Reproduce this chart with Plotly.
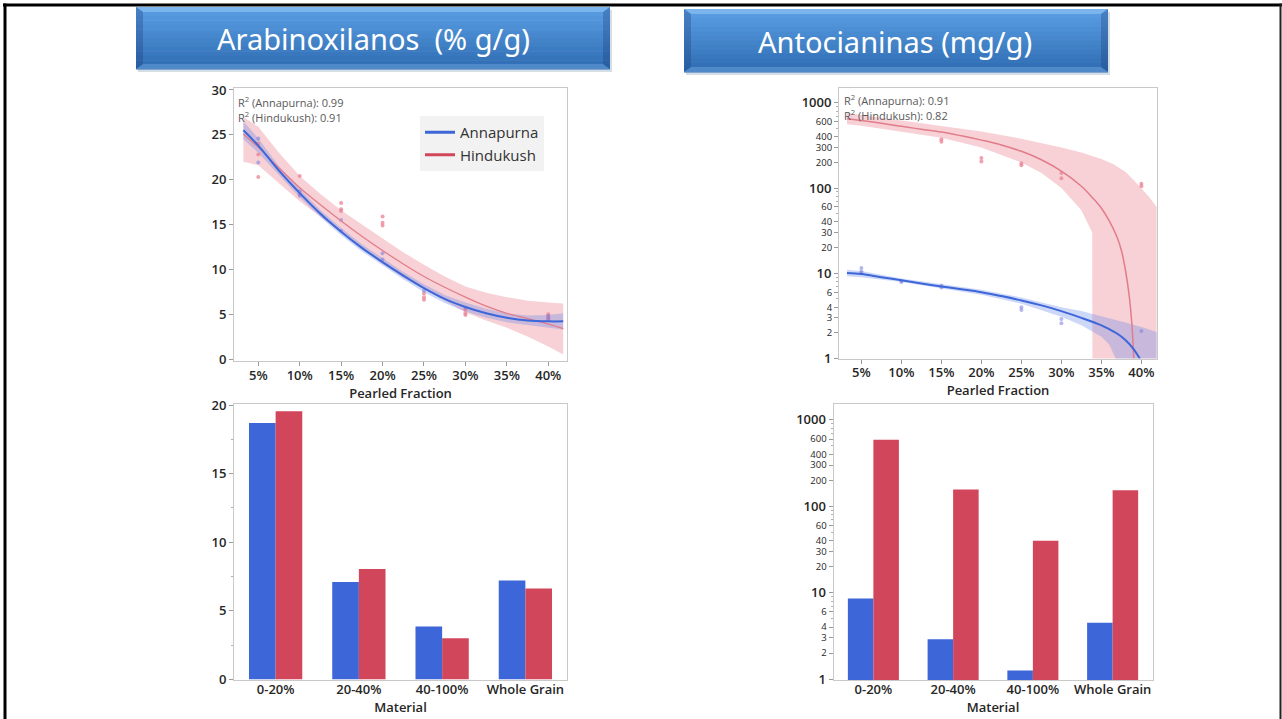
import plotly.graph_objects as go

W, H = 1282, 719

# ---------------- data ----------------
# Arabinoxylans fitted curves (x in % pearled fraction)
ax_fit_x = [3.2, 5, 7.5, 10, 12.5, 15, 17.5, 20, 22.5, 25, 27.5, 30, 32.5, 35, 37.5, 40, 41.8]
ax_an_fit = [25.5, 23.8, 21.0, 18.5, 16.2, 14.2, 12.4, 10.8, 9.3, 7.9, 6.7, 5.8, 5.1, 4.6, 4.3, 4.2, 4.2]
ax_an_up = [26.5, 24.6, 21.5, 18.95, 16.6, 14.6, 12.8, 11.2, 9.7, 8.35, 7.15, 6.3, 5.6, 5.1, 4.85, 4.9, 5.1]
ax_an_lo = [24.5, 23.0, 20.5, 18.05, 15.8, 13.8, 12.0, 10.4, 8.9, 7.45, 6.25, 5.3, 4.6, 4.1, 3.75, 3.5, 3.3]
ax_hk_fit = [25.1, 23.6, 21.3, 19.1, 17.2, 15.4, 13.7, 12.1, 10.6, 9.2, 8.0, 6.9, 5.9, 5.1, 4.5, 3.9, 3.4]
ax_hk_up = [27.0, 25.9, 23.0, 20.4, 18.4, 16.6, 15.0, 13.4, 11.9, 10.5, 9.2, 8.1, 7.4, 6.9, 6.5, 6.3, 6.2]
ax_hk_lo = [22.0, 21.6, 19.6, 17.6, 15.9, 14.1, 12.3, 10.6, 9.1, 7.8, 6.5, 5.2, 4.3, 3.5, 2.5, 1.4, 0.5]

ax_an_pts_x = [5, 5, 10, 10, 15, 15, 20, 20, 25, 30, 40, 40]
ax_an_pts_y = [24.6, 21.9, 18.7, 18.2, 15.5, 14.3, 11.8, 11.1, 7.6, 5.7, 4.8, 4.5]
ax_hk_pts_x = [5, 5, 5, 10, 10, 15, 15, 15, 20, 20, 20, 25, 25, 25, 30, 30, 30, 40, 40, 40]
ax_hk_pts_y = [22.8, 20.3, 24.0, 20.4, 18.4, 17.4, 16.7, 16.5, 15.9, 15.2, 14.9,
               7.3, 6.9, 6.6, 5.5, 5.1, 4.9, 5.0, 4.7, 4.4]

# Anthocyanins fitted curves (log scale)
an_fit_x = [3.2, 5, 7.5, 10, 12.5, 15, 17.5, 20, 22.5, 25, 27.5, 30, 32.5, 35, 36, 37, 38, 39, 39.8]
an_fit_y = [10.1, 9.8, 9.0, 8.3, 7.6, 7.0, 6.5, 6.0, 5.4, 4.8, 4.2, 3.6, 3.0, 2.45, 2.2, 1.95, 1.65, 1.3, 1.0]
an_band_x = [3.2, 5, 10, 15, 20, 25, 30, 32.5, 35, 36, 37, 38, 40, 41.9]
an_band_up = [11.0, 10.6, 8.7, 7.4, 6.4, 5.2, 4.0, 3.6, 3.1, 2.95, 2.8, 2.65, 2.35, 2.05]
an_band_lo = [9.2, 9.0, 7.9, 6.6, 5.6, 4.4, 3.1, 2.45, 1.8, 1.45, 0.9, 0.6, 0.3, 0.2]

hk_fit_x = [3.2, 5, 7.5, 10, 12.5, 15, 17.5, 20, 22.5, 25, 27.5, 30, 32.5, 34, 35, 36, 37, 37.5, 38, 38.5, 38.8, 39.05]
hk_fit_y = [650, 620, 575, 530, 490, 455, 410, 365, 320, 270, 215, 158, 105, 75, 58, 41, 26, 18.5, 11, 5.2, 2.6, 1.0]
hk_band_x = [3.2, 5, 10, 15, 20, 25, 27.5, 30, 32.5, 33.85, 33.9, 35, 36.5, 38, 39, 40, 41, 41.9]
hk_band_up = [760, 720, 620, 540, 460, 380, 340, 300, 262, 240, 239, 220, 190, 155, 125, 98, 78, 60]
hk_band_lo = [560, 540, 460, 390, 300, 200, 150, 100, 55, 30, 0.1, 0.1, 0.1, 0.1, 0.1, 0.1, 0.1, 0.1]

an_pts_x = [5, 5, 5, 10, 10, 15, 15, 25, 25, 30, 30, 40]
an_pts_y = [11.5, 10.5, 10.0, 8.1, 7.9, 7.2, 6.8, 4.0, 3.7, 2.9, 2.6, 2.1]
hk_pts_x = [15, 15, 20, 20, 25, 25, 30, 30, 40, 40]
hk_pts_y = [375, 350, 225, 205, 195, 185, 150, 130, 112, 105]

# Bars
materials = ["0-20%", "20-40%", "40-100%", "Whole Grain"]
ax_an_bar = [18.7, 7.1, 3.85, 7.2]
ax_hk_bar = [19.55, 8.05, 3.0, 6.62]
ant_an_bar = [8.6, 2.9, 1.26, 4.5]
ant_hk_bar = [590, 157, 40, 153]

pct_ticks = [5, 10, 15, 20, 25, 30, 35, 40]
pct_labels = ["5%", "10%", "15%", "20%", "25%", "30%", "35%", "40%"]
log_major = [1, 10, 100, 1000]
log_small = [2, 3, 4, 6, 20, 30, 40, 60, 200, 300, 400, 600]
log_minor = [5, 7, 8, 9, 50, 70, 80, 90, 500, 700, 800, 900]

# ---------------- styles ----------------
BLUE = "#3d66d8"
RED = "#d1465a"
RED_LINE = "#e27c8a"
BLUE_BAND = "rgba(90,125,235,0.30)"
RED_BAND = "rgba(232,115,130,0.33)"
BLUE_PT = "rgba(120,125,220,0.55)"
RED_PT = "rgba(235,130,145,0.75)"
FONT = "Open Sans"
TICKC = "#262626"


def X(px):
    return px / W


def Y(py):
    return 1 - py / H


fig = go.Figure()


def band(x, up, lo, color, xa, ya):
    fig.add_trace(go.Scatter(x=list(x) + list(x)[::-1], y=list(up) + list(lo)[::-1],
                             fill="toself", fillcolor=color, mode="lines",
                             line=dict(width=0), showlegend=False, hoverinfo="skip",
                             xaxis=xa, yaxis=ya))


# ---- top-left: arabinoxylans fit ----
band(ax_fit_x, ax_hk_up, ax_hk_lo, RED_BAND, "x", "y")
band(ax_fit_x, ax_an_up, ax_an_lo, BLUE_BAND, "x", "y")
fig.add_trace(go.Scatter(x=ax_hk_pts_x, y=ax_hk_pts_y, mode="markers",
                         marker=dict(size=4, color=RED_PT), showlegend=False, xaxis="x", yaxis="y"))
fig.add_trace(go.Scatter(x=ax_an_pts_x, y=ax_an_pts_y, mode="markers",
                         marker=dict(size=4, color=BLUE_PT), showlegend=False, xaxis="x", yaxis="y"))
fig.add_trace(go.Scatter(x=ax_fit_x, y=ax_hk_fit, mode="lines", line=dict(color=RED_LINE, width=1.3, shape="spline"),
                         showlegend=False, xaxis="x", yaxis="y"))
fig.add_trace(go.Scatter(x=ax_fit_x, y=ax_an_fit, mode="lines", line=dict(color=BLUE, width=2, shape="spline"),
                         showlegend=False, xaxis="x", yaxis="y"))
# legend entries
fig.add_trace(go.Scatter(x=[None], y=[None], mode="lines", line=dict(color=BLUE, width=3),
                         name="Annapurna", xaxis="x", yaxis="y"))
fig.add_trace(go.Scatter(x=[None], y=[None], mode="lines", line=dict(color=RED, width=3),
                         name="Hindukush", xaxis="x", yaxis="y"))

# ---- top-right: anthocyanins fit ----
band(hk_band_x, hk_band_up, hk_band_lo, RED_BAND, "x2", "y2")
band(an_band_x, an_band_up, an_band_lo, BLUE_BAND, "x2", "y2")
fig.add_trace(go.Scatter(x=hk_pts_x, y=hk_pts_y, mode="markers",
                         marker=dict(size=4, color=RED_PT), showlegend=False, xaxis="x2", yaxis="y2"))
fig.add_trace(go.Scatter(x=an_pts_x, y=an_pts_y, mode="markers",
                         marker=dict(size=4, color=BLUE_PT), showlegend=False, xaxis="x2", yaxis="y2"))
fig.add_trace(go.Scatter(x=hk_fit_x, y=hk_fit_y, mode="lines", line=dict(color=RED_LINE, width=1.5, shape="spline"),
                         showlegend=False, xaxis="x2", yaxis="y2"))
fig.add_trace(go.Scatter(x=an_fit_x, y=an_fit_y, mode="lines", line=dict(color=BLUE, width=2, shape="spline"),
                         showlegend=False, xaxis="x2", yaxis="y2"))
# hosts for the small-label overlay axes
fig.add_trace(go.Scatter(x=[None], y=[None], mode="markers", showlegend=False, hoverinfo="skip",
                         xaxis="x2", yaxis="y5"))

# ---- bottom bars ----
fig.add_trace(go.Bar(x=materials, y=ax_an_bar, marker=dict(color=BLUE, line=dict(width=0)),
                     showlegend=False, xaxis="x3", yaxis="y3"))
fig.add_trace(go.Bar(x=materials, y=ax_hk_bar, marker=dict(color=RED, line=dict(width=0)),
                     showlegend=False, xaxis="x3", yaxis="y3"))
fig.add_trace(go.Bar(x=materials, y=ant_an_bar, marker=dict(color=BLUE, line=dict(width=0)),
                     showlegend=False, xaxis="x4", yaxis="y4"))
fig.add_trace(go.Bar(x=materials, y=ant_hk_bar, marker=dict(color=RED, line=dict(width=0)),
                     showlegend=False, xaxis="x4", yaxis="y4"))
fig.add_trace(go.Scatter(x=[None], y=[None], mode="markers", showlegend=False, hoverinfo="skip",
                         xaxis="x4", yaxis="y6"))

# ---------------- axes ----------------
tickfont = dict(family=FONT, size=13, color=TICKC, weight=600)
smallfont = dict(family=FONT, size=9.5, color=TICKC)
titlefont = dict(family=FONT, size=13, color=TICKC, weight=600)
base = dict(showline=True, mirror=True, linecolor="#c9c9c9", linewidth=1, showgrid=False, automargin=False,
            zeroline=False, tickcolor="#9a9a9a", tickfont=tickfont)
common = dict(base, ticks="outside", ticklen=4)
nocat = dict(base, ticks="", ticklabelstandoff=-3)
minor_log = dict(ticks="outside", ticklen=2, tickcolor="#b0b0b0", tickvals=log_minor)
small_axis = dict(type="log", side="left", showline=False, showgrid=False, zeroline=False, automargin=False,
                  ticks="outside", ticklen=4, tickcolor="#9a9a9a", tickfont=smallfont, tickvals=log_small)

fig.update_layout(
    template="none",
    width=W, height=H, autosize=False,
    margin=dict(l=0, r=0, t=0, b=0, pad=0, autoexpand=False),
    paper_bgcolor="white", plot_bgcolor="white",
    barmode="group", bargap=0.36, bargroupgap=0,
    font=dict(family=FONT),
    xaxis=dict(domain=[X(234), X(567)], anchor="y", range=[2.07, 42.26], tickvals=pct_ticks,
               ticktext=pct_labels, ticklabelstandoff=-2,
               title=dict(text="Pearled Fraction", font=titlefont, standoff=3), **common),
    yaxis=dict(domain=[Y(361), Y(88)], anchor="x", range=[-0.22, 30.22], tickvals=[0, 5, 10, 15, 20, 25, 30],
               **common),
    xaxis2=dict(domain=[X(839), X(1157)], anchor="y2", range=[2.2, 41.95], tickvals=pct_ticks,
                ticktext=pct_labels, ticklabelstandoff=-2,
                title=dict(text="Pearled Fraction", font=titlefont, standoff=3), **common),
    yaxis2=dict(domain=[Y(358.5), Y(87.5)], anchor="x2", type="log", range=[0, 3.18],
                tickvals=log_major, minor=minor_log, **common),
    yaxis5=dict(overlaying="y2", anchor="x2", range=[0, 3.18], **small_axis),
    xaxis3=dict(domain=[X(234), X(567)], anchor="y3", range=[-0.5, 3.5],
                title=dict(text="Material", font=titlefont, standoff=4), **nocat),
    yaxis3=dict(domain=[Y(680), Y(403.5)], anchor="x3", range=[-0.05, 20.12], tickvals=[0, 5, 10, 15, 20],
                minor=dict(ticks="outside", ticklen=2, tickcolor="#b0b0b0", tickvals=[2.5, 7.5, 12.5, 17.5]),
                **common),
    xaxis4=dict(domain=[X(833.5), X(1152.5)], anchor="y4", range=[-0.5, 3.5],
                title=dict(text="Material", font=titlefont, standoff=4), **nocat),
    yaxis4=dict(domain=[Y(680), Y(403.5)], anchor="x4", type="log", range=[-0.01, 3.19],
                tickvals=log_major, minor=minor_log, **common),
    yaxis6=dict(overlaying="y4", anchor="x4", range=[-0.01, 3.19], **small_axis),
    legend=dict(x=X(420), y=Y(116), xanchor="left", yanchor="top", bgcolor="#f2f2f2",
                font=dict(family=FONT, size=15, color="#333"), borderwidth=0,
                tracegroupgap=0, itemwidth=30),
)

# R² annotations
ann = []
for (px, py, txt) in [(236, 102, "R<sup>2</sup> (Annapurna): 0.99"), (236, 117, "R<sup>2</sup> (Hindukush): 0.91"),
                      (842, 100, "R<sup>2</sup> (Annapurna): 0.91"), (842, 115, "R<sup>2</sup> (Hindukush): 0.82")]:
    ann.append(dict(x=X(px), y=Y(py), xref="paper", yref="paper", xanchor="left", yanchor="middle",
                    text=txt, showarrow=False, font=dict(family=FONT, size=11, color="#595959")))

# ---------------- banners ----------------
shapes = []


def hexmix(c1, c2, t):
    a = [int(c1[i:i + 2], 16) for i in (1, 3, 5)]
    b = [int(c2[i:i + 2], 16) for i in (1, 3, 5)]
    return "#%02x%02x%02x" % tuple(round(a[k] + (b[k] - a[k]) * t) for k in range(3))


def banner(x0, y0, x1, y1, text, tx):
    shapes.append(dict(type="rect", xref="paper", yref="paper", x0=X(x0 + 2), x1=X(x1 + 2), y0=Y(y1 + 3), y1=Y(y0 + 3),
                       fillcolor="#d5dde6", line=dict(width=0), layer="below"))
    n = 14
    for i in range(n):
        ya = y0 + (y1 - y0) * i / n
        yb = y0 + (y1 - y0) * (i + 1) / n
        col = hexmix("#5a9ee3", "#2f6db3", i / (n - 1))
        shapes.append(dict(type="rect", xref="paper", yref="paper", x0=X(x0), x1=X(x1), y0=Y(yb + 0.5), y1=Y(ya),
                           fillcolor=col, line=dict(width=0), layer="below"))
    b = 7
    shapes.append(dict(type="path", xref="paper", yref="paper", layer="below", line=dict(width=0),
                       fillcolor="rgba(150,200,245,0.55)",
                       path="M %f %f L %f %f L %f %f L %f %f Z" % (X(x0), Y(y0), X(x1), Y(y0), X(x1 - b), Y(y0 + b - 2),
                                                                X(x0 + b), Y(y0 + b - 2))))
    for (xa, xb) in [(x0, x0 + b), (x1, x1 - b)]:
        shapes.append(dict(type="path", xref="paper", yref="paper", layer="below", line=dict(width=0),
                           fillcolor="rgba(25,60,120,0.30)",
                           path="M %f %f L %f %f L %f %f L %f %f Z" % (X(xa), Y(y0), X(xb), Y(y0 + b - 2),
                                                                    X(xb), Y(y1 - b + 2), X(xa), Y(y1))))
    shapes.append(dict(type="path", xref="paper", yref="paper", layer="below", line=dict(width=0),
                       fillcolor="rgba(120,170,225,0.45)",
                       path="M %f %f L %f %f L %f %f L %f %f Z" % (X(x0), Y(y1), X(x1), Y(y1), X(x1 - b), Y(y1 - b + 2),
                                                                X(x0 + b), Y(y1 - b + 2))))
    ann.append(dict(x=X(tx), y=Y((y0 + y1) / 2 + 1), xref="paper", yref="paper", xanchor="center", yanchor="middle",
                    text=text, showarrow=False, font=dict(family="Noto Sans", size=29, color="white")))


banner(136, 7, 610, 69, "Arabinoxilanos  (% g/g)", 373)
banner(684, 9, 1108, 72, "Antocianinas (mg/g)", 895)

# outer black frame
shapes.append(dict(type="line", xref="paper", yref="paper", x0=X(3), x1=X(1282), y0=Y(5), y1=Y(5),
                   line=dict(color="black", width=3)))
shapes.append(dict(type="line", xref="paper", yref="paper", x0=X(5), x1=X(5), y0=Y(3.5), y1=Y(719),
                   line=dict(color="black", width=3)))
shapes.append(dict(type="line", xref="paper", yref="paper", x0=X(1280.5), x1=X(1280.5), y0=Y(3.5), y1=Y(719),
                   line=dict(color="#222", width=2)))

fig.update_layout(shapes=shapes, annotations=ann)
fig.write_html("out.html", config={"responsive": False, "displayModeBar": False},
               post_script="document.body.style.margin='0';document.body.style.padding='0';"
                           "document.body.style.overflow='hidden';")
